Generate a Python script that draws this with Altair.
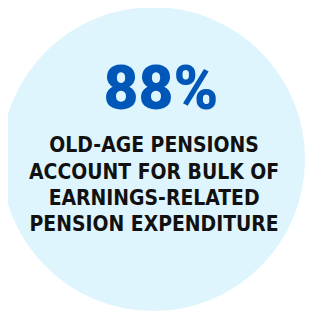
import altair as alt
import pandas as pd

share = [100]
headline = ["88%"]
lines = ["OLD-AGE PENSIONS", "ACCOUNT FOR BULK OF", "EARNINGS-RELATED", "PENSION EXPENDITURE"]

circle_df = pd.DataFrame({"v": share})
head_df = pd.DataFrame({"t": headline})
lines_df = pd.DataFrame({"t": lines, "i": list(range(len(lines)))})

W, H = 307, 311

circle = alt.Chart(circle_df).mark_arc(outerRadius=156, color="#dff5fd").encode(
    theta=alt.Theta("v:Q", scale=alt.Scale(domain=[0, 100])),
    x=alt.value(149), y=alt.value(151),
)

head = alt.Chart(head_df).mark_text(
    font="Roboto", fontWeight=900, fontSize=62, color="#0057b8",
    baseline="alphabetic", align="center",
).encode(text="t:N", x=alt.value(157), y=alt.value(100))

body = alt.Chart(lines_df).mark_text(
    font="DejaVu Sans Condensed", fontWeight="bold", fontSize=21.5, color="#111111",
    baseline="alphabetic", align="center",
).encode(
    text="t:N",
    x=alt.value(150),
    y=alt.Y("i:Q", scale=alt.Scale(domain=[0, 3], range=[144, 225]), axis=None),
)

chart = alt.layer(circle, head, body).properties(
    width=W, height=H, autosize=alt.AutoSizeParams(type="none"), padding=0,
).configure(background="white", view=alt.ViewConfig(stroke=None))

chart.save("out.html", embed_options={"renderer": "svg", "actions": False})
